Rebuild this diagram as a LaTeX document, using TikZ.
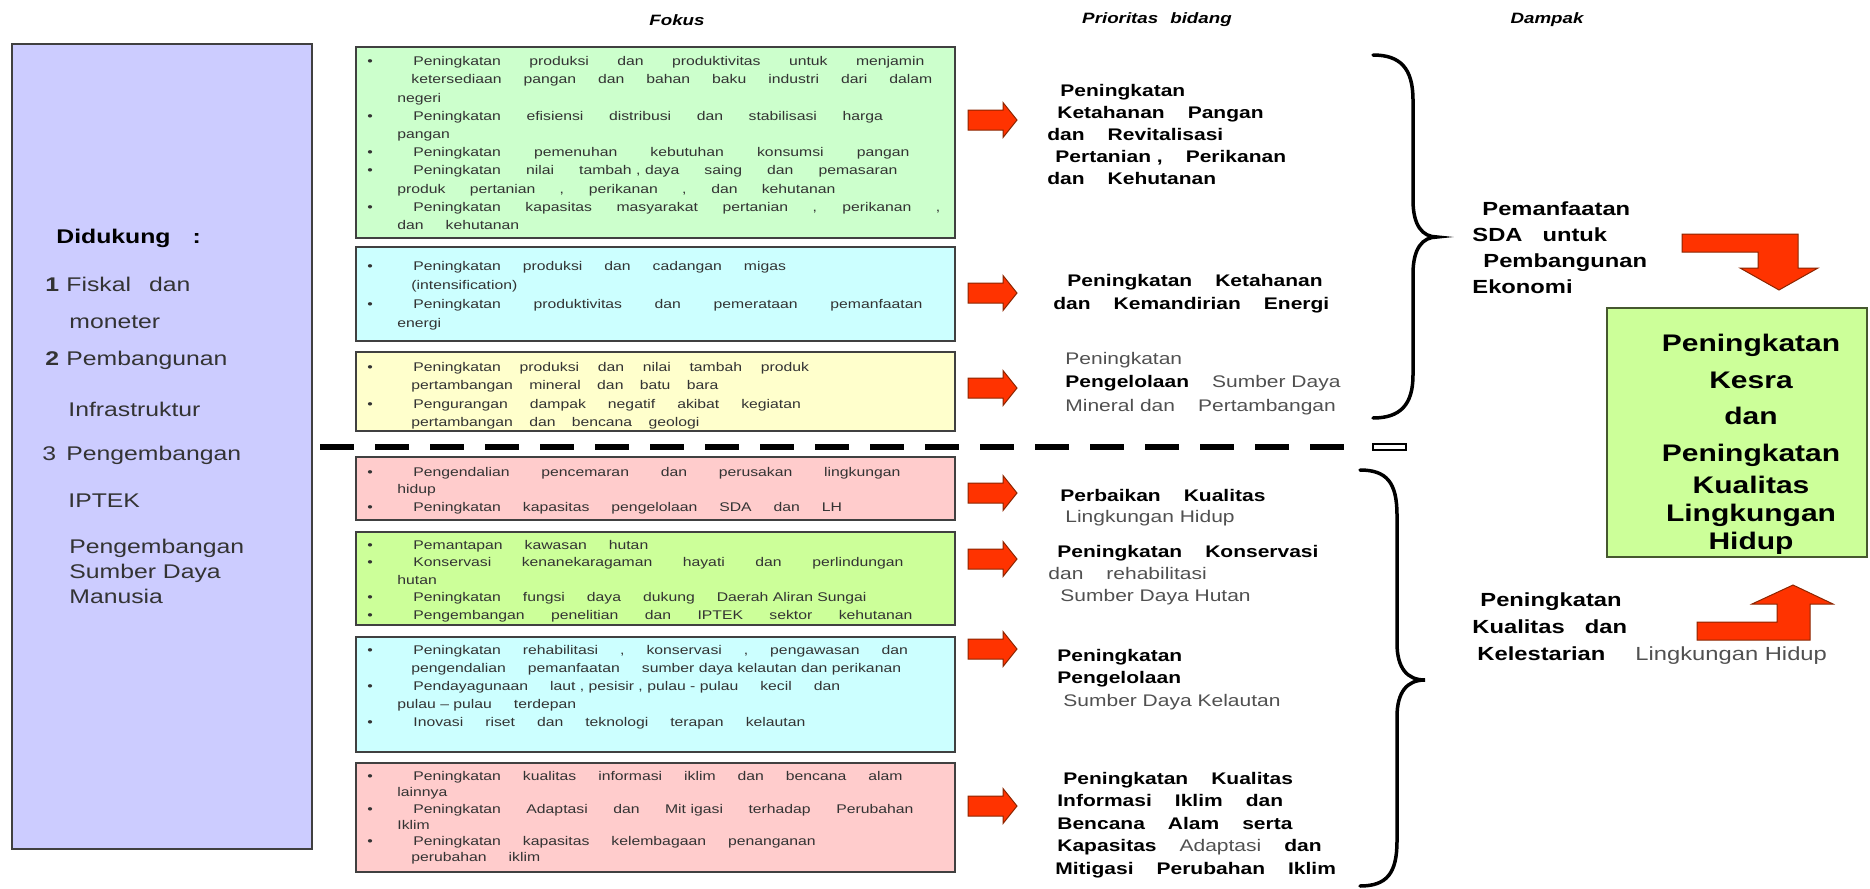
\documentclass[tikz,border=0pt]{standalone}
\usepackage{fontspec}
\setmainfont{Liberation Sans}[FakeStretch=1.25]
\usepackage{xcolor}
\usetikzlibrary{positioning}

\definecolor{lavbox}{HTML}{CCCCFF}
\definecolor{fkgreen}{HTML}{CCFFCC}
\definecolor{fkcyan}{HTML}{CCFFFF}
\definecolor{fkyellow}{HTML}{FFFFCC}
\definecolor{fkpink}{HTML}{FFCCCC}
\definecolor{fklime}{HTML}{CCFF99}
\definecolor{boxedge}{HTML}{404040}
\definecolor{kesraedge}{HTML}{46582F}
\definecolor{txtgray}{HTML}{333333}
\definecolor{litegray}{HTML}{505050}
\definecolor{arrowred}{HTML}{FF3300}
\definecolor{arrowedge}{HTML}{8B2500}

\newcommand\tight[1]{{\spaceskip=0pt\relax#1}}
\newcommand\lite[1]{{\mdseries\color{litegray}#1}}
\newcommand\wline[2]{\makebox[#1][s]{#2}}
\newcommand\bul{\makebox[23pt][l]{\textbullet}}
\newcommand\ca{\hspace*{15pt}}
\newcommand\cb{\hspace*{22pt}}

\begin{document}
\begin{tikzpicture}[x=0.5pt, y=-0.5pt,
  head/.style={inner sep=0pt, font={\fontsize{7.5pt}{9pt}\selectfont\bfseries\itshape\spaceskip=6pt\relax}},
  dk/.style={anchor=west, align=left, inner sep=0pt, text=txtgray,
    font={\fontsize{9.9pt}{12.5pt}\selectfont\spaceskip=9pt\relax}},
  fokus/.style={draw=boxedge, line width=0.8pt, minimum width=299.5pt},
  fktext/.style={anchor=west, align=left, inner sep=0pt, text=txtgray,
    font={\fontsize{6.3pt}{#1}\selectfont\spaceskip=11pt plus 20pt minus 5pt\relax}},
  fktext/.default=8.9pt,
  prio/.style={anchor=west, align=left, inner sep=0pt,
    font={\fontsize{8.4pt}{#1}\selectfont\bfseries\spaceskip=11.5pt\relax}},
  prio/.default=11.1pt,
  dampak/.style={anchor=west, align=left, inner sep=0pt,
    font={\fontsize{9.5pt}{#1}\selectfont\bfseries\spaceskip=10pt\relax}},
  dampak/.default=13pt,
  redarrow/.style={fill=arrowred, draw=arrowedge, line width=0.5pt},
  brace/.style={line width=1.75pt, line cap=round}]
\useasboundingbox (0,0) rectangle (1870,889);

% headers
\node[head] (hfokus) at (677,20) {Fokus};
\node[head] (hprio) at (1157,20) {Prioritas bidang};
\node[head] (hdampak) at (1547,20) {Dampak};

% left column
\node[draw=boxedge, line width=0.8pt, fill=lavbox, minimum width=150pt, minimum height=402.5pt] (dukung) at (162,446.5) {};
\node[dk] (dk0) at (56,238.5) {\textbf{\color{black}Didukung\hspace{11pt}:}};
\node[dk] (dk1) at (45,284) {\makebox[10.5pt][l]{\textbf{1}}Fiskal dan};
\node[dk] (dk2) at (69,322) {moneter};
\node[dk] (dk3) at (45,360) {\makebox[10.5pt][l]{\textbf{2}}Pembangunan};
\node[dk] (dk4) at (68,409) {Infrastruktur};
\node[dk] (dk5) at (42,455.5) {\makebox[12pt][l]{3}Pengembangan};
\node[dk] (dk6) at (68,501) {IPTEK};
\node[dk] (dk7) at (69,571) {Pengembangan\\\tight{Sumber Daya}\\Manusia};

% fokus boxes
\node[fokus, fill=fkgreen, minimum height=95.5pt] (fk1) at (655.5,142.5) {};
\node[fokus, fill=fkcyan, minimum height=47pt] (fk2) at (655.5,294) {};
\node[fokus, fill=fkyellow, minimum height=39.5pt] (fk3) at (655.5,391.5) {};
\node[fokus, fill=fkpink, minimum height=31.5pt] (fk4) at (655.5,488.5) {};
\node[fokus, fill=fklime, minimum height=46.5pt] (fk5) at (655.5,578.5) {};
\node[fokus, fill=fkcyan, minimum height=57.5pt] (fk6) at (655.5,694.5) {};
\node[fokus, fill=fkpink, minimum height=54.5pt] (fk7) at (655.5,817.5) {};

\node[fktext=9.1pt] (t1) at (367,143) {\bul\wline{255.5pt}{Peningkatan produksi dan produktivitas untuk menjamin}\\
  \cb ketersediaan pangan dan bahan baku industri dari dalam\\
  \ca negeri\\
  \bul\wline{234.75pt}{Peningkatan efisiensi distribusi dan stabilisasi harga}\\
  \ca pangan\\
  \bul\wline{248pt}{Peningkatan pemenuhan kebutuhan konsumsi pangan}\\
  \bul\wline{242pt}{Peningkatan nilai \tight{tambah , daya} saing dan pemasaran}\\
  \ca\wline{219pt}{produk pertanian , perikanan , dan kehutanan}\\
  \bul\wline{263.5pt}{Peningkatan kapasitas masyarakat pertanian , perikanan ,}\\
  \ca dan kehutanan};
\node[fktext=9.5pt] (t2) at (367,295.5) {\bul Peningkatan produksi dan cadangan migas\\
  \cb (intensification)\\
  \bul\wline{254.5pt}{Peningkatan produktivitas dan pemerataan pemanfaatan}\\
  \ca energi};
\node[fktext=9.25pt] (t3) at (367,395.5) {\bul\wline{197.8pt}{Peningkatan produksi dan nilai tambah produk}\\
  \cb\wline{153.5pt}{pertambangan mineral dan batu bara}\\
  \bul Pengurangan dampak negatif akibat kegiatan\\
  \cb\wline{144pt}{pertambangan dan bencana geologi}};
\node[fktext=8.8pt] (t4) at (367,490.5) {\bul\wline{243.5pt}{Pengendalian pencemaran dan perusakan lingkungan}\\
  \ca hidup\\
  \bul Peningkatan kapasitas pengelolaan SDA dan LH};
\node[fktext=8.8pt] (t5) at (367,581) {\bul Pemantapan kawasan hutan\\
  \bul\wline{245pt}{Konservasi kenanekaragaman hayati dan perlindungan}\\
  \ca hutan\\
  \bul Peningkatan fungsi daya dukung \tight{Daerah Aliran Sungai}\\
  \bul\wline{249.5pt}{Pengembangan penelitian dan IPTEK sektor kehutanan}};
\node[fktext=9pt] (t6) at (367,687) {\bul Peningkatan rehabilitasi , konservasi , pengawasan dan\\
  \cb pengendalian pemanfaatan \tight{sumber daya kelautan dan perikanan}\\
  \bul Pendayagunaan \tight{laut , pesisir , pulau - pulau} kecil dan\\
  \ca \tight{pulau – pulau} terdepan\\
  \bul Inovasi riset dan teknologi terapan kelautan};
\node[fktext=8.1pt] (t7) at (367,818) {\bul Peningkatan kualitas informasi iklim dan bencana alam\\
  \ca lainnya\\
  \bul\wline{250pt}{Peningkatan Adaptasi dan \tight{Mit igasi} terhadap Perubahan}\\
  \ca Iklim\\
  \bul Peningkatan kapasitas kelembagaan penanganan\\
  \cb perubahan iklim};

% red arrows
\foreach \y in {120,293,388,493,559,649,806}
  \filldraw[redarrow] (968,{\y-10}) -- (1003,{\y-10}) -- (1003,{\y-17.5}) -- (1017,\y)
    -- (1003,{\y+17.5}) -- (1003,{\y+10}) -- (968,{\y+10}) -- cycle;

% prioritas bidang
\node[prio] (pr1) at (1047,134.5) {\hspace*{6.5pt}Peningkatan\\\hspace*{5pt}Ketahanan Pangan\\dan Revitalisasi\\
  \hspace*{4pt}\tight{Pertanian ,} Perikanan\\dan Kehutanan};
\node[prio=11.5pt] (pr2) at (1053,293.5) {\hspace*{7pt}Peningkatan Ketahanan\\dan Kemandirian Energi};
\node[prio=11.75pt] (pr3) at (1065,383.5) {\lite{Peningkatan}\\Pengelolaan \lite{\tight{Sumber Daya}}\\
  \lite{\tight{Mineral dan} Pertambangan}};
\node[prio=10.5pt] (pr4) at (1060,507.5) {Perbaikan Kualitas\\\hspace*{2.5pt}\lite{\tight{Lingkungan Hidup}}};
\node[prio=11pt] (pr5) at (1048,575) {\hspace*{4.5pt}Peningkatan Konservasi\\\lite{dan rehabilitasi}\\
  \hspace*{6pt}\lite{\tight{Sumber Daya Hutan}}};
\node[prio=11.25pt] (pr6) at (1057,679.5) {Peningkatan\\Pengelolaan\\\hspace*{3pt}\lite{\tight{Sumber Daya Kelautan}}};
\node[prio=11.25pt] (pr7) at (1055,825) {\hspace*{4pt}Peningkatan Kualitas\\\hspace*{1pt}Informasi Iklim dan\\
  \hspace*{1pt}Bencana Alam serta\\\hspace*{1pt}Kapasitas \lite{Adaptasi} dan\\Mitigasi Perubahan Iklim};

% separator
\draw[line width=3pt, dash pattern=on 17pt off 10.5pt] (320,447) -- (1352,447);
\draw[line width=0.6pt, fill=white] (1373,444) rectangle (1406,450);

% braces
\draw[brace] (1373,55) .. controls (1400,55) and (1413,68) .. (1413,100) -- (1413,200)
  .. controls (1413,225) and (1422,237) .. (1437,237)
  .. controls (1422,237) and (1413,249) .. (1413,274) -- (1413,375)
  .. controls (1413,405) and (1400,418) .. (1373,418);
\draw[brace] (1360,470) .. controls (1387,470) and (1397,483) .. (1397,515) -- (1397,643)
  .. controls (1397,668) and (1407,680) .. (1425,680)
  .. controls (1407,680) and (1397,692) .. (1397,717) -- (1397,841)
  .. controls (1397,873) and (1387,886) .. (1360,886);

% dampak
\node[dampak] (dp1) at (1472,247.5) {\hspace*{5pt}Pemanfaatan\\SDA untuk\\\hspace*{5.5pt}Pembangunan\\Ekonomi};
\node[dampak=13.5pt] (dp2) at (1472,629) {\hspace*{4pt}Peningkatan\\Kualitas dan\\
  \hspace*{2.5pt}Kelestarian\hspace{15pt}\lite{\tight{Lingkungan Hidup}}};

\node[draw=kesraedge, line width=0.8pt, fill=fklime, minimum width=130pt, minimum height=124.5pt] (kesra) at (1737,432.5) {};
\node[align=center, inner sep=0pt, font={\fontsize{12pt}{14pt}\selectfont\bfseries}] (kesratext) at (1751,444)
  {Peningkatan\\[4.5pt]Kesra\\[4pt]dan\\[4.5pt]Peningkatan\\[2pt]Kualitas\\Lingkungan\\Hidup};

% bent arrows
\filldraw[redarrow] (1682,234) -- (1798,234) -- (1798,268) -- (1818,268) -- (1779,290)
  -- (1740,268) -- (1758,268) -- (1758,252) -- (1682,252) -- cycle;
\filldraw[redarrow] (1697,640) -- (1810,640) -- (1810,604) -- (1833,604) -- (1793,585)
  -- (1752,604) -- (1777,604) -- (1777,622) -- (1697,622) -- cycle;
\end{tikzpicture}
\end{document}
